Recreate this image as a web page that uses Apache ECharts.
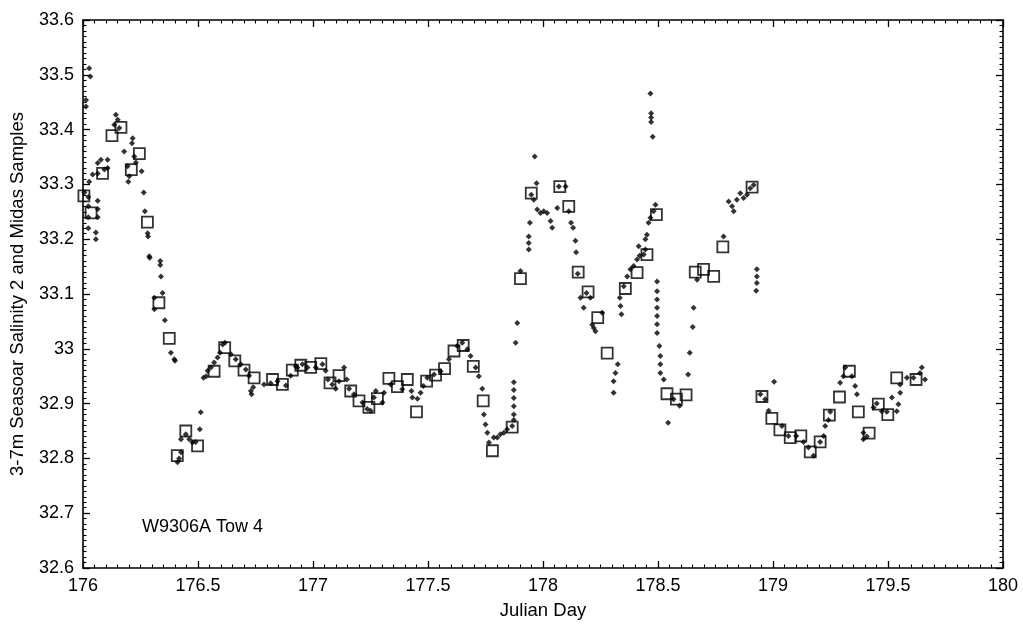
<!DOCTYPE html>
<html>
<head>
<meta charset="utf-8">
<script src="https://cdn.jsdelivr.net/npm/echarts@6/dist/echarts.min.js"></script>
<style>
html,body{margin:0;padding:0;background:#fff;}
#chart{width:1023px;height:626px;}
</style>
</head>
<body>
<div id="chart"></div>
<script>
// Seasoar salinity samples (Julian day, salinity)
var seasoarDay = [176.006,176.023,176.023,176.023,176.023,176.013,176.013,176.027,176.032,176.027,176.042,176.056,176.056,176.064,176.064,176.064,176.064,176.064,176.078,176.093,176.107,176.107,176.143,176.151,176.136,176.158,176.179,176.194,176.201,176.197,176.213,176.216,176.223,176.23,176.255,176.264,176.269,176.281,176.283,176.288,176.29,176.31,176.31,176.336,176.336,176.339,176.346,176.356,176.382,176.397,176.4,176.411,176.418,176.426,176.426,176.447,176.462,176.476,176.49,176.508,176.512,176.524,176.535,176.542,176.556,176.57,176.585,176.596,176.607,176.617,176.643,176.664,176.686,176.708,176.722,176.73,176.733,176.74,176.787,176.816,176.846,176.882,176.903,176.932,176.925,176.954,176.976,177.012,177.041,177.055,177.065,177.084,177.099,177.113,177.135,177.147,177.157,177.178,177.215,177.236,177.251,177.265,177.273,177.302,177.309,177.338,177.388,177.428,177.432,177.454,177.468,177.48,177.497,177.526,177.555,177.591,177.627,177.649,177.671,177.685,177.707,177.721,177.736,177.743,177.75,177.758,177.765,177.786,177.801,177.815,177.83,177.844,177.866,177.873,177.873,177.873,177.873,177.873,177.873,177.881,177.888,177.902,177.938,177.938,177.938,177.943,177.949,177.96,177.964,177.972,177.975,177.989,178.003,178.018,178.033,178.04,178.062,178.069,178.098,178.112,178.122,178.131,178.141,178.144,178.151,178.163,178.177,178.189,178.206,178.214,178.221,178.228,178.257,178.307,178.315,178.325,178.307,178.334,178.337,178.341,178.351,178.366,178.38,178.394,178.409,178.416,178.42,178.438,178.445,178.445,178.452,178.459,178.467,178.481,178.489,178.467,178.47,178.47,178.47,178.477,178.496,178.496,178.496,178.496,178.496,178.496,178.496,178.506,178.51,178.51,178.51,178.525,178.544,178.568,178.594,178.631,178.638,178.651,178.655,178.67,178.785,178.807,178.822,178.829,178.843,178.858,178.872,178.887,178.901,178.916,178.93,178.93,178.93,178.927,178.945,178.966,178.981,179.005,179.039,179.067,179.101,179.133,179.154,179.176,179.205,179.22,179.227,179.241,179.249,179.292,179.306,179.314,179.343,179.357,179.365,179.393,179.393,179.408,179.437,179.451,179.473,179.495,179.517,179.538,179.545,179.553,179.553,179.582,179.611,179.639,179.647,179.661];
var seasoarSal = [33.285,33.277,33.26,33.24,33.22,33.454,33.442,33.512,33.497,33.305,33.318,33.212,33.2,33.27,33.255,33.24,33.339,33.32,33.345,33.327,33.345,33.33,33.427,33.418,33.409,33.403,33.36,33.333,33.315,33.305,33.375,33.384,33.351,33.34,33.324,33.285,33.251,33.211,33.205,33.169,33.166,33.093,33.072,33.16,33.153,33.132,33.102,33.052,32.993,32.981,32.978,32.793,32.8,32.811,32.835,32.844,32.835,32.829,32.83,32.853,32.884,32.947,32.95,32.96,32.966,32.975,32.984,32.993,33.008,33.011,32.99,32.981,32.972,32.962,32.951,32.923,32.917,32.93,32.935,32.937,32.941,32.933,32.951,32.966,32.968,32.972,32.966,32.966,32.972,32.96,32.944,32.935,32.927,32.941,32.966,32.944,32.927,32.917,32.902,32.89,32.887,32.911,32.923,32.902,32.92,32.935,32.926,32.923,32.911,32.909,32.92,32.932,32.947,32.953,32.959,32.981,33.005,33.011,32.999,32.987,32.966,32.95,32.927,32.88,32.862,32.847,32.829,32.838,32.838,32.844,32.847,32.853,32.859,32.939,32.925,32.91,32.895,32.88,32.87,33.011,33.047,33.142,33.205,33.193,33.181,33.23,33.281,33.272,33.351,33.302,33.254,33.248,33.251,33.248,33.233,33.221,33.257,33.296,33.296,33.251,33.23,33.221,33.197,33.176,33.137,33.093,33.075,33.102,33.093,33.044,33.038,33.032,33.066,32.941,32.956,32.972,32.92,33.093,33.078,33.063,33.114,33.132,33.145,33.151,33.163,33.187,33.17,33.172,33.181,33.2,33.208,33.23,33.239,33.251,33.263,33.466,33.43,33.422,33.414,33.387,33.123,33.105,33.09,33.075,33.06,33.045,33.029,33.005,32.987,32.972,32.956,32.944,32.865,32.908,32.896,32.953,32.993,33.04,33.075,33.126,33.205,33.269,33.26,33.251,33.272,33.284,33.275,33.281,33.293,33.299,33.145,33.132,33.12,33.106,32.917,32.908,32.887,32.94,32.859,32.841,32.841,32.83,32.82,32.805,32.83,32.841,32.859,32.87,32.885,32.938,32.95,32.966,32.95,32.932,32.917,32.847,32.835,32.84,32.893,32.9,32.886,32.885,32.911,32.886,32.899,32.92,32.935,32.947,32.947,32.956,32.966,32.944];

// Midas samples (Julian day, salinity)
var midasDay = [176.004,176.035,176.085,176.126,176.165,176.21,176.245,176.28,176.33,176.375,176.41,176.447,176.498,176.57,176.616,176.66,176.70,176.744,176.824,176.867,176.91,176.947,176.99,177.034,177.074,177.113,177.164,177.2,177.243,177.28,177.33,177.367,177.41,177.45,177.494,177.533,177.572,177.613,177.653,177.697,177.74,177.78,177.866,177.902,177.949,178.073,178.112,178.153,178.196,178.238,178.279,178.358,178.409,178.452,178.493,178.539,178.58,178.622,178.662,178.698,178.742,178.782,178.909,178.952,178.995,179.03,179.075,179.121,179.162,179.205,179.245,179.289,179.332,179.371,179.418,179.458,179.499,179.538,179.622];
var midasSal = [33.279,33.248,33.32,33.389,33.404,33.327,33.356,33.231,33.084,33.019,32.805,32.85,32.823,32.959,33.002,32.978,32.961,32.947,32.944,32.935,32.961,32.97,32.966,32.973,32.938,32.951,32.923,32.905,32.893,32.909,32.946,32.931,32.944,32.885,32.941,32.952,32.964,32.996,33.006,32.968,32.905,32.814,32.857,33.128,33.284,33.296,33.26,33.14,33.104,33.057,32.992,33.11,33.139,33.172,33.245,32.918,32.908,32.916,33.14,33.145,33.132,33.186,33.295,32.913,32.873,32.852,32.838,32.841,32.812,32.83,32.879,32.912,32.959,32.885,32.846,32.899,32.88,32.947,32.944];

var xTickInterval = 0.5;
var yTickInterval = 0.1;
var xTitle = 'Julian Day';
var yTitle = '3-7m Seasoar Salinity 2 and Midas Samples';
var noteText = 'W9306A Tow 4';

function pairs(xs, ys){ var out=[]; for(var i=0;i<xs.length;i++) out.push([xs[i], ys[i]]); return out; }

var FONT = '"Liberation Sans", Arial, Helvetica, sans-serif';
var axisLine = {show:true, lineStyle:{color:'#000', width:1.6}};
function makeAxis(extra){
  var base = {
    type:'value', scale:true,
    axisLine: axisLine,
    axisTick: {show:true, inside:true, length:7, lineStyle:{color:'#000', width:1.3}},
    minorTick: {show:true, splitNumber:10, length:3.5, lineStyle:{color:'#000', width:1.1}},
    splitLine: {show:false},
    axisLabel: {show:true, color:'#000', fontSize:18, fontFamily:FONT, margin:9},
    nameTextStyle: {color:'#000', fontSize:18.5, fontFamily:FONT}
  };
  for (var k in extra) base[k] = extra[k];
  return base;
}

var chart = echarts.init(document.getElementById('chart'), null, {renderer:'canvas'});
chart.setOption({
  animation:false,
  backgroundColor:'#fff',
  grid:{left:82, right:20, top:20, bottom:58},
  xAxis:[
    makeAxis({min:176, max:180, interval:xTickInterval, position:'bottom', name:xTitle, nameLocation:'middle', nameGap:33}),
    makeAxis({min:176, max:180, interval:xTickInterval, position:'top', axisLabel:{show:false}})
  ],
  yAxis:[
    makeAxis({min:32.6, max:33.6, interval:yTickInterval, position:'left', name:yTitle, nameLocation:'middle', nameGap:56}),
    makeAxis({min:32.6, max:33.6, interval:yTickInterval, position:'right', axisLabel:{show:false}})
  ],
  graphic:[{
    type:'text', left:142, top:518,
    style:{text:noteText, fill:'#000', fontSize:18, fontFamily:FONT}
  }],
  series:[
    {
      name:'Midas', type:'scatter', xAxisIndex:0, yAxisIndex:0,
      data: pairs(midasDay, midasSal),
      symbol:'rect', symbolSize:11,
      itemStyle:{color:'rgba(0,0,0,0)', borderColor:'#000', borderWidth:1.8}
    },
    {
      name:'Seasoar', type:'scatter', xAxisIndex:0, yAxisIndex:0,
      data: pairs(seasoarDay, seasoarSal),
      symbol:'diamond', symbolSize:6,
      itemStyle:{color:'#000'}
    }
  ]
});
</script>
</body>
</html>
